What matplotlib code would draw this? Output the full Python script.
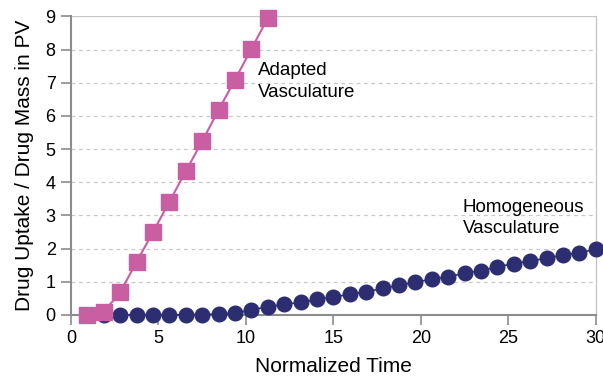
"""Drug uptake over normalized time for adapted vs homogeneous vasculature."""

import matplotlib

matplotlib.use("Agg")
import matplotlib.pyplot as plt

plt.rcParams["font.family"] = ["Liberation Sans", "DejaVu Sans"]

# normalized time samples (shared grid)
adapted_time = [0.94, 1.88, 2.81, 3.75, 4.69, 5.63, 6.56, 7.5, 8.44, 9.38, 10.31, 11.25]
adapted_uptake = [0.0, 0.1, 0.68, 1.6, 2.5, 3.42, 4.33, 5.24, 6.18, 7.1, 8.02, 8.95]

homog_time = [1.88, 2.81, 3.75, 4.69, 5.63, 6.56, 7.5, 8.44, 9.38, 10.31, 11.25,
              12.19, 13.13, 14.06, 15.0, 15.94, 16.88, 17.81, 18.75, 19.69, 20.63,
              21.56, 22.5, 23.44, 24.38, 25.31, 26.25, 27.19, 28.13, 29.06, 30.0]
homog_uptake = [0.0, 0.0, 0.0, 0.0, 0.0, 0.01, 0.01, 0.03, 0.06, 0.15, 0.25,
                0.32, 0.38, 0.47, 0.54, 0.63, 0.7, 0.8, 0.9, 0.99, 1.08,
                1.15, 1.26, 1.34, 1.45, 1.55, 1.63, 1.71, 1.81, 1.88, 1.98]

x_ticks = [0, 5, 10, 15, 20, 25, 30]
y_ticks = [0, 1, 2, 3, 4, 5, 6, 7, 8, 9]

PINK = "#C95EA3"
NAVY = "#2D2E72"
AXIS_GREY = "#8C8C8C"

fig = plt.figure(figsize=(6.03, 3.79), dpi=100)
ax = fig.add_axes([0.1177, 0.1689, 0.8703, 0.7876])

for y in y_ticks[1:-1]:
    ax.axhline(y, color="#C8C8C8", linewidth=0.9, linestyle=(0, (3, 3)), zorder=0)
ax.axhline(9, color="#C8C8C8", linewidth=1.0, zorder=0)

ax.plot(homog_time, homog_uptake, color=NAVY, marker="o", markersize=10.5,
        linewidth=1.2, clip_on=False, zorder=3)
ax.plot(adapted_time, adapted_uptake, color=PINK, marker="s", markersize=11.5,
        linewidth=1.5, clip_on=False, zorder=4)

ax.text(10.7, 7.62, "Adapted\nVasculature", fontsize=13.5, va="top", ha="left",
        linespacing=1.35)
ax.text(22.4, 3.5, "Homogeneous\nVasculature", fontsize=13.5, va="top", ha="left",
        linespacing=1.35)

ax.set_xlim(0, 30)
ax.set_ylim(0, 9)
ax.set_xticks(x_ticks)
ax.set_yticks(y_ticks)
ax.tick_params(axis="both", labelsize=13, color=AXIS_GREY, length=7, width=1.2, pad=4)
ax.set_xlabel("Normalized Time", fontsize=15, labelpad=7)
ax.set_ylabel("Drug Uptake / Drug Mass in PV", fontsize=15, labelpad=8)

for side in ("left", "bottom"):
    ax.spines[side].set_color(AXIS_GREY)
    ax.spines[side].set_linewidth(1.5)
ax.spines["top"].set_visible(False)
ax.spines["right"].set_color("#C8C8C8")
ax.spines["right"].set_linewidth(1.0)

fig.savefig("out.png", dpi=100)
